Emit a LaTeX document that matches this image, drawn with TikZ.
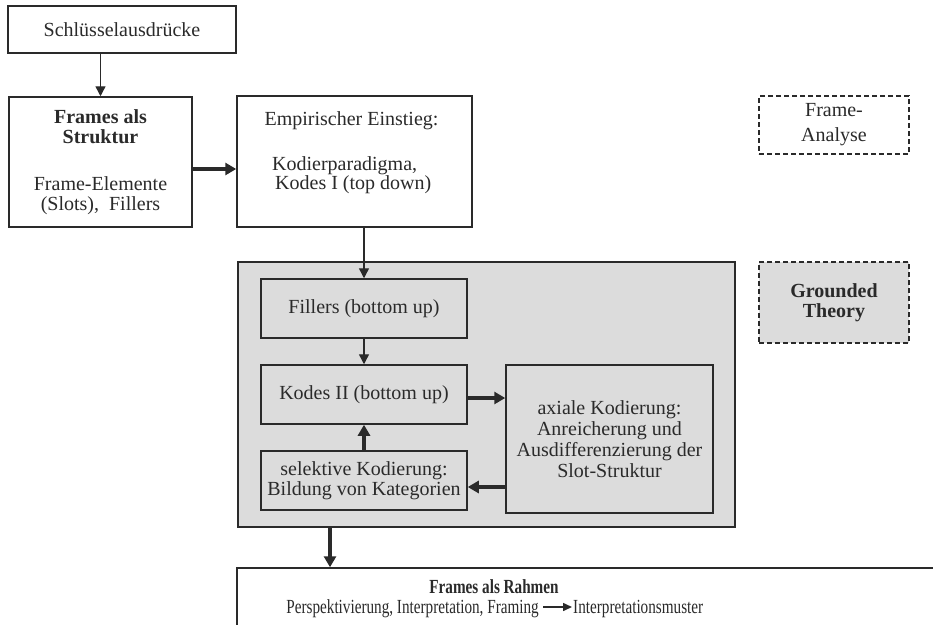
\documentclass[tikz,border=0pt]{standalone}
\usepackage{fontspec}
\setmainfont{Liberation Serif}
\usetikzlibrary{arrows.meta}
\definecolor{ink}{HTML}{2A2A2A}
\definecolor{panel}{HTML}{DCDCDC}
\begin{document}
\begin{tikzpicture}[x=1pt,y=-1pt,
  font=\fontsize{20}{20}\selectfont,
  every node/.style={text=ink},
  box/.style={draw=ink, line width=1.5pt, fill=white, inner sep=0pt, align=center},
  graybox/.style={box, fill=panel},
  dashbox/.style={box, dash pattern=on 5pt off 3pt},
  txt/.style={inner sep=0pt, align=center},
  thinarrow/.style={draw=ink, line width=1.4pt, -{Triangle[length=10pt,width=10pt]}},
  thickarrow/.style={draw=ink, line width=4pt, -{Triangle[length=11pt,width=12pt]}}
]
\useasboundingbox (0,0) rectangle (933,624);
\clip (0,0) rectangle (933,624);

% upper row
\node[box, minimum width=228pt, minimum height=47pt] (schl) at (122,29.5) {Schlüsselausdrücke};
\node[box, minimum width=183pt, minimum height=130pt] (struktur) at (100.5,162)
  {\textbf{Frames als}\\\textbf{Struktur}\\[27pt]Frame-Elemente\\(Slots),\ \ Fillers};
\node[box, minimum width=235pt, minimum height=131pt] (emp) at (354.5,161.5) {};
\node[txt, anchor=base] (empA) at (351.5,125) {Empirischer Einstieg:};
\node[txt, anchor=base west] (empB) at (272,170) {Kodierparadigma,};
\node[txt, anchor=base west] (empC) at (275,189) {Kodes I (top down)};

% grounded theory panel
\node[graybox, line width=1.3pt, minimum width=497pt, minimum height=265pt] (panel) at (486.5,394.5) {};
\node[box, fill=panel, minimum width=206pt, minimum height=59pt] (fillers) at (364,308.5) {Fillers (bottom up)};
\node[box, fill=panel, minimum width=206pt, minimum height=59pt] (kodes) at (364,394.5) {Kodes II (bottom up)};
\node[box, fill=panel, minimum width=206pt, minimum height=59pt] (sel) at (364,480.5)
  {selektive Kodierung:\\Bildung von Kategorien};
\node[box, fill=panel, minimum width=207pt, minimum height=148pt] (ax) at (609.5,439)
  {axiale Kodierung:\\[1pt]Anreicherung und\\[1pt]Ausdifferenzierung der\\[1pt]Slot-Struktur};

% labels on the right
\node[dashbox, minimum width=150pt, minimum height=58pt] (fa) at (834,125) {Frame-\\[5pt]Analyse};
\node[dashbox, fill=panel, minimum width=150pt, minimum height=81pt] (gt) at (834,302.5)
  {\textbf{Grounded}\\\textbf{Theory}};

% result box, running off the page
\node[box, minimum width=723pt, minimum height=82pt] (rahmen) at (598.5,609) {};
\node[txt, anchor=base] (rahmenT) at (494,593) {\scalebox{0.76}[1]{\textbf{Frames als Rahmen}}};
\node[txt, anchor=base east] (rahmenL) at (539,613) {\scalebox{0.76}[1]{Perspektivierung, Interpretation, Framing}};
\node[txt, anchor=base west] (rahmenR) at (573,613) {\scalebox{0.76}[1]{Interpretationsmuster}};
\coordinate (flowA) at (543,607);
\coordinate (flowB) at (572,607);
\draw[draw=ink, line width=1.5pt, -{Triangle[length=9pt,width=8pt]}] (flowA) -- (flowB);

% connectors
\draw[thinarrow] (struktur.north |- schl.south) -- (struktur.north);
\draw[thickarrow] ([yshift=-7pt]struktur.east) -- ([yshift=-7pt]struktur.east -| emp.west);
\draw[thinarrow] (fillers.north |- emp.south) -- (fillers.north);
\draw[thinarrow] (fillers.south) -- (kodes.north);
\draw[thickarrow] (sel.north) -- (kodes.south);
\draw[thickarrow] ([yshift=-3.5pt]kodes.east) -- ([yshift=-3.5pt]kodes.east -| ax.west);
\draw[thickarrow] ([yshift=-6.5pt]sel.east -| ax.west) -- ([yshift=-6.5pt]sel.east);
\draw[thickarrow] ([xshift=-156.5pt]panel.south) -- ([xshift=-156.5pt]panel.south |- rahmen.north);
\end{tikzpicture}
\end{document}
